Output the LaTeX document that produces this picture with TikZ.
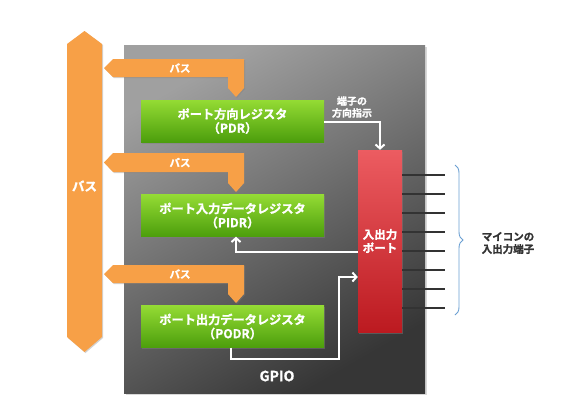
\documentclass[tikz,border=0pt]{standalone}
\usepackage{fontspec}
\setmainfont{Noto Sans CJK JP}[BoldFont={* Bold}]
\newfontfamily\jpb{Noto Sans CJK JP Bold}[FakeBold=1.2]
\usetikzlibrary{arrows.meta,shadows,decorations.pathreplacing,calc}
\definecolor{busor}{HTML}{F7A047}
\definecolor{grlight}{HTML}{A0A0A0}
\definecolor{grdark}{HTML}{363636}
\definecolor{gntop}{HTML}{94DB34}
\definecolor{gnbot}{HTML}{4C9E0C}
\definecolor{rdtop}{HTML}{EC5C61}
\definecolor{rdbot}{HTML}{BC1A20}
\definecolor{bracebl}{HTML}{6A9FD2}
\definecolor{pincol}{HTML}{333333}
\tikzset{
  busshape/.style={fill=busor, drop shadow={opacity=0.35,shadow xshift=1pt,shadow yshift=-1pt}},
  regbox/.style={draw=none, minimum width=183pt, minimum height=42pt, top color=gntop, bottom color=gnbot,
     drop shadow={opacity=0.45,shadow xshift=1pt,shadow yshift=-1.5pt},
     text=white, font=\jpb\fontsize{12.2}{14}\selectfont, align=center, inner sep=0pt},
  portbox/.style={draw=none, minimum width=44pt, minimum height=182pt, top color=rdtop, bottom color=rdbot,
     drop shadow={opacity=0.45,shadow xshift=1pt,shadow yshift=-1.5pt},
     text=white, font=\jpb\fontsize{11.5}{13.5}\selectfont, align=center, inner sep=0pt},
  wlabel/.style={text=white, font=\jpb\fontsize{10}{12}\selectfont, align=center, inner sep=0pt},
  warrow/.style={draw=white, line width=2pt, -{Straight Barb[length=4pt,width=9pt,line width=2pt]}},
  pin/.style={draw=pincol, line width=1.3pt},
}
\begin{document}
\begin{tikzpicture}[x=1pt,y=-1pt]
\useasboundingbox (0,0) rectangle (580,400);
\fill[white] (0,0) rectangle (580,400);
% gray GPIO block
\shade[top color=grlight, bottom color=grdark, shading angle=30,
  drop shadow={opacity=0.3,shadow xshift=1.5pt,shadow yshift=-1.5pt}] (124,45) rectangle (425,393);
\node[text=white, font=\jpb\fontsize{14}{16}\selectfont, inner sep=0pt] (gpio) at (277,376) {GPIO};

% big bus
\path[busshape] (67,44) -- (84.5,31) -- (102,44) -- (102,337) -- (84.5,352) -- (67,337) -- cycle;
\node[wlabel, font=\jpb\fontsize{12.5}{14}\selectfont] (bigbus) at (84.5,186) {バス};

% small buses
\foreach \t/\b/\n in {59/77/1,153/172/2,265/283/3}{
  \path[busshape] (104,{(\t+\b)/2}) -- (113,\t) -- (244,\t) -- (244,\b+11) -- (236,\b+20) -- (228,\b+11) -- (228,\b) -- (113,\b) -- cycle;
  \node[wlabel, font=\jpb\fontsize{10.5}{12}\selectfont] (bus\n) at (180,{(\t+\b)/2}) {バス};
}

% registers
\node[regbox] (pdr) at (232.5,121) {ポート方向レジスタ\\（PDR）};
\node[regbox] (pidr) at (232.5,215.5) {ポート入力データレジスタ\\（PIDR）};
\node[regbox] (podr) at (232.5,326.5) {ポート出力データレジスタ\\（PODR）};

% port
\node[portbox] (port) at (380,241) {入出力\\ポート};

% pins
\foreach \yy [count=\i] in {175,194,213,232,251,270,289,308}{
  \coordinate (p\i) at (445,\yy);
  \draw[pin] (port.east |- p\i) -- (p\i);
}

% brace
\draw[bracebl, line width=0.9pt, decorate, decoration={brace, amplitude=8pt}] (455,165) -- (455,315);
\node[font=\jpb\fontsize{10.5}{12.5}\selectfont, text=black!80, align=center, inner sep=0pt] (pins) at (508,243) {マイコンの\\入出力端子};

% direction arrow
\node[wlabel, font=\jpb\fontsize{10}{12}\selectfont] (dirlbl) at (352,107) {端子の\\方向指示};
\draw[warrow] (pdr.east |- 0,122) -| (port.north);

% input arrow
\coordinate (inturn) at (236,252);
\draw[warrow] (port.west |- inturn) -| ($(pidr.south)+(3.5,0)$);

% output arrow
\coordinate (outa) at (231,359);
\coordinate (outb) at (339,277);
\draw[warrow] ($(podr.south)+(-1.5,0)$) -- (outa) -| (outb) -- (port.west |- outb);
\end{tikzpicture}
\end{document}
